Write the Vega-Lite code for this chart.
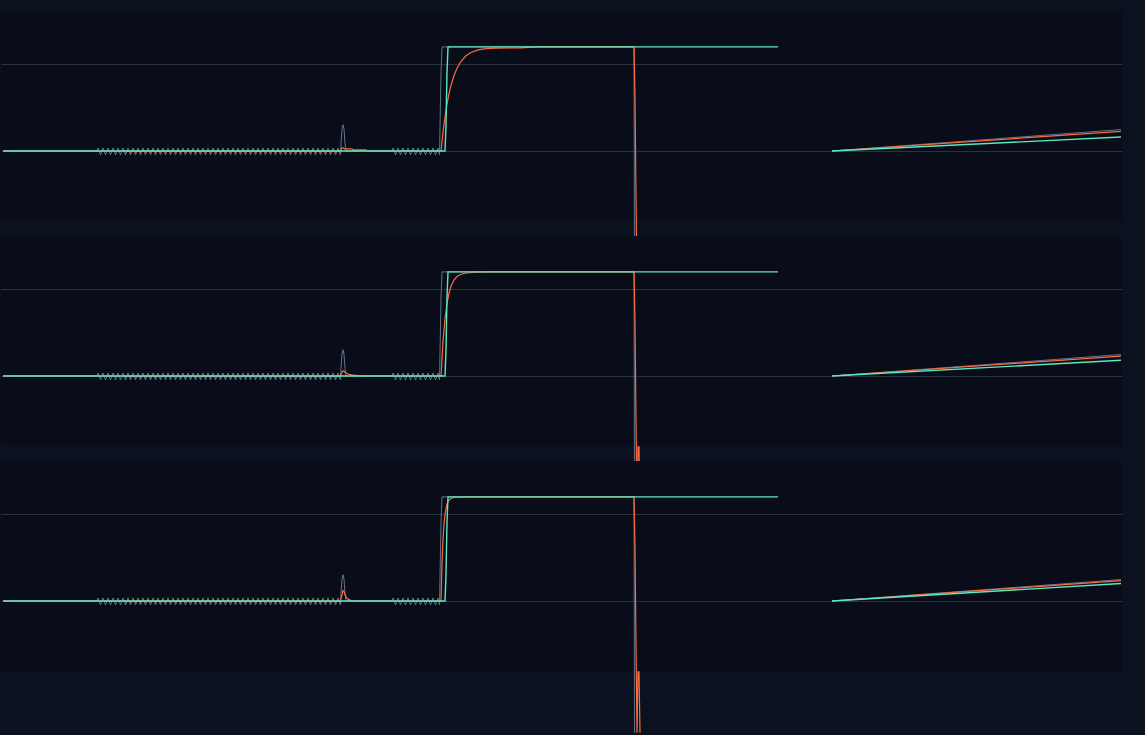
{
  "$schema": "https://vega.github.io/schema/vega-lite/v6.json",
  "background": "#0c1120",
  "padding": {"left": 0, "top": 11, "right": 21, "bottom": 0},
  "spacing": 15,
  "bounds": "flush",
  "config": {
    "view": {"fill": "#080d19", "stroke": null},
    "axis": {"gridColor": "#2a3140", "gridWidth": 1, "gridOpacity": 1}
  },
  "datasets": {
    "gray": [
      {"t":0.02,"v":0,"g":"a"},{"t":0.96,"v":0,"g":"a"},
      {"t":0.97,"v":0.035,"g":"a"},{"t":0.995,"v":-0.045,"g":"a"},{"t":1.02,"v":0.035,"g":"a"},{"t":1.045,"v":-0.045,"g":"a"},{"t":1.07,"v":0.035,"g":"a"},{"t":1.095,"v":-0.045,"g":"a"},{"t":1.12,"v":0.035,"g":"a"},{"t":1.145,"v":-0.045,"g":"a"},{"t":1.17,"v":0.035,"g":"a"},{"t":1.195,"v":-0.045,"g":"a"},
      {"t":1.22,"v":0.035,"g":"a"},{"t":1.245,"v":-0.045,"g":"a"},{"t":1.27,"v":0.035,"g":"a"},{"t":1.295,"v":-0.045,"g":"a"},{"t":1.32,"v":0.035,"g":"a"},{"t":1.345,"v":-0.045,"g":"a"},{"t":1.37,"v":0.035,"g":"a"},{"t":1.395,"v":-0.045,"g":"a"},{"t":1.42,"v":0.035,"g":"a"},{"t":1.445,"v":-0.045,"g":"a"},
      {"t":1.47,"v":0.035,"g":"a"},{"t":1.495,"v":-0.045,"g":"a"},{"t":1.52,"v":0.035,"g":"a"},{"t":1.545,"v":-0.045,"g":"a"},{"t":1.57,"v":0.035,"g":"a"},{"t":1.595,"v":-0.045,"g":"a"},{"t":1.62,"v":0.035,"g":"a"},{"t":1.645,"v":-0.045,"g":"a"},{"t":1.67,"v":0.035,"g":"a"},{"t":1.695,"v":-0.045,"g":"a"},
      {"t":1.72,"v":0.035,"g":"a"},{"t":1.745,"v":-0.045,"g":"a"},{"t":1.77,"v":0.035,"g":"a"},{"t":1.795,"v":-0.045,"g":"a"},{"t":1.82,"v":0.035,"g":"a"},{"t":1.845,"v":-0.045,"g":"a"},{"t":1.87,"v":0.035,"g":"a"},{"t":1.895,"v":-0.045,"g":"a"},{"t":1.92,"v":0.035,"g":"a"},{"t":1.945,"v":-0.045,"g":"a"},
      {"t":1.97,"v":0.035,"g":"a"},{"t":1.995,"v":-0.045,"g":"a"},{"t":2.02,"v":0.035,"g":"a"},{"t":2.045,"v":-0.045,"g":"a"},{"t":2.07,"v":0.035,"g":"a"},{"t":2.095,"v":-0.045,"g":"a"},{"t":2.12,"v":0.035,"g":"a"},{"t":2.145,"v":-0.045,"g":"a"},{"t":2.17,"v":0.035,"g":"a"},{"t":2.195,"v":-0.045,"g":"a"},
      {"t":2.22,"v":0.035,"g":"a"},{"t":2.245,"v":-0.045,"g":"a"},{"t":2.27,"v":0.035,"g":"a"},{"t":2.295,"v":-0.045,"g":"a"},{"t":2.32,"v":0.035,"g":"a"},{"t":2.345,"v":-0.045,"g":"a"},{"t":2.37,"v":0.035,"g":"a"},{"t":2.395,"v":-0.045,"g":"a"},{"t":2.42,"v":0.035,"g":"a"},{"t":2.445,"v":-0.045,"g":"a"},
      {"t":2.47,"v":0.035,"g":"a"},{"t":2.495,"v":-0.045,"g":"a"},{"t":2.52,"v":0.035,"g":"a"},{"t":2.545,"v":-0.045,"g":"a"},{"t":2.57,"v":0.035,"g":"a"},{"t":2.595,"v":-0.045,"g":"a"},{"t":2.62,"v":0.035,"g":"a"},{"t":2.645,"v":-0.045,"g":"a"},{"t":2.67,"v":0.035,"g":"a"},{"t":2.695,"v":-0.045,"g":"a"},
      {"t":2.72,"v":0.035,"g":"a"},{"t":2.745,"v":-0.045,"g":"a"},{"t":2.77,"v":0.035,"g":"a"},{"t":2.795,"v":-0.045,"g":"a"},{"t":2.82,"v":0.035,"g":"a"},{"t":2.845,"v":-0.045,"g":"a"},{"t":2.87,"v":0.035,"g":"a"},{"t":2.895,"v":-0.045,"g":"a"},{"t":2.92,"v":0.035,"g":"a"},{"t":2.945,"v":-0.045,"g":"a"},
      {"t":2.97,"v":0.035,"g":"a"},{"t":2.995,"v":-0.045,"g":"a"},{"t":3.02,"v":0.035,"g":"a"},{"t":3.045,"v":-0.045,"g":"a"},{"t":3.07,"v":0.035,"g":"a"},{"t":3.095,"v":-0.045,"g":"a"},{"t":3.12,"v":0.035,"g":"a"},{"t":3.145,"v":-0.045,"g":"a"},{"t":3.17,"v":0.035,"g":"a"},{"t":3.195,"v":-0.045,"g":"a"},
      {"t":3.22,"v":0.035,"g":"a"},{"t":3.245,"v":-0.045,"g":"a"},{"t":3.27,"v":0.035,"g":"a"},{"t":3.295,"v":-0.045,"g":"a"},{"t":3.32,"v":0.035,"g":"a"},{"t":3.345,"v":-0.045,"g":"a"},{"t":3.37,"v":0.035,"g":"a"},{"t":3.395,"v":-0.045,"g":"a"},
      {"t":3.40,"v":0.086,"g":"a"},{"t":3.41,"v":0.25,"g":"a"},{"t":3.42,"v":0.30,"g":"a"},{"t":3.43,"v":0.25,"g":"a"},{"t":3.44,"v":0.086,"g":"a"},{"t":3.45,"v":0,"g":"a"},{"t":3.91,"v":0,"g":"a"},
      {"t":3.92,"v":0.035,"g":"a"},{"t":3.945,"v":-0.045,"g":"a"},{"t":3.97,"v":0.035,"g":"a"},{"t":3.995,"v":-0.045,"g":"a"},{"t":4.02,"v":0.035,"g":"a"},{"t":4.045,"v":-0.045,"g":"a"},{"t":4.07,"v":0.035,"g":"a"},{"t":4.095,"v":-0.045,"g":"a"},{"t":4.12,"v":0.035,"g":"a"},{"t":4.145,"v":-0.045,"g":"a"},
      {"t":4.17,"v":0.035,"g":"a"},{"t":4.195,"v":-0.045,"g":"a"},{"t":4.22,"v":0.035,"g":"a"},{"t":4.245,"v":-0.045,"g":"a"},{"t":4.27,"v":0.035,"g":"a"},{"t":4.295,"v":-0.045,"g":"a"},{"t":4.32,"v":0.035,"g":"a"},{"t":4.345,"v":-0.045,"g":"a"},{"t":4.37,"v":0.035,"g":"a"},{"t":4.385,"v":-0.045,"g":"a"},
      {"t":4.39,"v":0.27,"g":"a"},{"t":4.40,"v":0.89,"g":"a"},{"t":4.41,"v":1.19,"g":"a"},{"t":6.33,"v":1.19,"g":"a"},{"t":6.335,"v":-1.505,"g":"a"},
      {"t":8.31,"v":0,"g":"b"},{"t":11.2,"v":0.245,"g":"b"}
    ],
    "ozig": [
      {"t":1.22,"v":0,"g":"z"},{"t":1.245,"v":-0.013,"g":"z"},{"t":1.27,"v":0,"g":"z"},{"t":1.295,"v":-0.013,"g":"z"},{"t":1.32,"v":0,"g":"z"},{"t":1.345,"v":-0.013,"g":"z"},{"t":1.37,"v":0,"g":"z"},{"t":1.395,"v":-0.013,"g":"z"},{"t":1.42,"v":0,"g":"z"},{"t":1.445,"v":-0.013,"g":"z"},
      {"t":1.47,"v":0,"g":"z"},{"t":1.495,"v":-0.013,"g":"z"},{"t":1.52,"v":0,"g":"z"},{"t":1.545,"v":-0.013,"g":"z"},{"t":1.57,"v":0,"g":"z"},{"t":1.595,"v":-0.013,"g":"z"},{"t":1.62,"v":0,"g":"z"},{"t":1.645,"v":-0.013,"g":"z"},{"t":1.67,"v":0,"g":"z"},{"t":1.695,"v":-0.013,"g":"z"},
      {"t":1.72,"v":0,"g":"z"},{"t":1.745,"v":-0.013,"g":"z"},{"t":1.77,"v":0,"g":"z"},{"t":1.795,"v":-0.013,"g":"z"},{"t":1.82,"v":0,"g":"z"},{"t":1.845,"v":-0.013,"g":"z"},{"t":1.87,"v":0,"g":"z"},{"t":1.895,"v":-0.013,"g":"z"},{"t":1.92,"v":0,"g":"z"},{"t":1.945,"v":-0.013,"g":"z"},
      {"t":1.97,"v":0,"g":"z"},{"t":1.995,"v":-0.013,"g":"z"},{"t":2.02,"v":0,"g":"z"},{"t":2.045,"v":-0.013,"g":"z"},{"t":2.07,"v":0,"g":"z"},{"t":2.095,"v":-0.013,"g":"z"},{"t":2.12,"v":0,"g":"z"},{"t":2.145,"v":-0.013,"g":"z"},{"t":2.17,"v":0,"g":"z"},{"t":2.195,"v":-0.013,"g":"z"},
      {"t":2.22,"v":0,"g":"z"},{"t":2.245,"v":-0.013,"g":"z"},{"t":2.27,"v":0,"g":"z"},{"t":2.295,"v":-0.013,"g":"z"},{"t":2.32,"v":0,"g":"z"},{"t":2.345,"v":-0.013,"g":"z"},{"t":2.37,"v":0,"g":"z"},{"t":2.395,"v":-0.013,"g":"z"},{"t":2.42,"v":0,"g":"z"},{"t":2.445,"v":-0.013,"g":"z"},
      {"t":2.47,"v":0,"g":"z"},{"t":2.495,"v":-0.013,"g":"z"},{"t":2.52,"v":0,"g":"z"},{"t":2.545,"v":-0.013,"g":"z"},{"t":2.57,"v":0,"g":"z"},{"t":2.595,"v":-0.013,"g":"z"},{"t":2.62,"v":0,"g":"z"},{"t":2.645,"v":-0.013,"g":"z"},{"t":2.67,"v":0,"g":"z"},{"t":2.695,"v":-0.013,"g":"z"},
      {"t":2.72,"v":0,"g":"z"},{"t":2.745,"v":-0.013,"g":"z"},{"t":2.77,"v":0,"g":"z"},{"t":2.795,"v":-0.013,"g":"z"},{"t":2.82,"v":0,"g":"z"},{"t":2.845,"v":-0.013,"g":"z"},{"t":2.87,"v":0,"g":"z"},{"t":2.895,"v":-0.013,"g":"z"},{"t":2.92,"v":0,"g":"z"},{"t":2.945,"v":-0.013,"g":"z"},
      {"t":2.97,"v":0,"g":"z"},{"t":2.995,"v":-0.013,"g":"z"},{"t":3.02,"v":0,"g":"z"},{"t":3.045,"v":-0.013,"g":"z"},{"t":3.07,"v":0,"g":"z"},{"t":3.095,"v":-0.013,"g":"z"},{"t":3.12,"v":0,"g":"z"},{"t":3.145,"v":-0.013,"g":"z"},{"t":3.17,"v":0,"g":"z"},{"t":3.195,"v":-0.013,"g":"z"},
      {"t":3.22,"v":0,"g":"z"},{"t":3.245,"v":-0.013,"g":"z"},{"t":3.27,"v":0,"g":"z"},{"t":3.295,"v":-0.013,"g":"z"},{"t":3.32,"v":0,"g":"z"},{"t":3.345,"v":-0.013,"g":"z"},{"t":3.37,"v":0,"g":"z"},{"t":3.395,"v":-0.013,"g":"z"}
    ],
    "p1": [
      {"s":"orange","g":"a","t":0.02,"v":0},{"s":"orange","g":"a","t":3.395,"v":0},{"s":"orange","g":"a","t":3.40,"v":0.01},{"s":"orange","g":"a","t":3.41,"v":0.037},{"s":"orange","g":"a","t":3.42,"v":0.037},{"s":"orange","g":"a","t":3.43,"v":0.03},{"s":"orange","g":"a","t":3.44,"v":0.025},{"s":"orange","g":"a","t":3.51,"v":0.025},{"s":"orange","g":"a","t":3.52,"v":0.014},{"s":"orange","g":"a","t":3.65,"v":0.014},{"s":"orange","g":"a","t":3.66,"v":0},
      {"s":"orange","g":"a","t":4.40,"v":0},{"s":"orange","g":"a","t":4.42,"v":0.215},{"s":"orange","g":"a","t":4.44,"v":0.391},{"s":"orange","g":"a","t":4.46,"v":0.535},{"s":"orange","g":"a","t":4.48,"v":0.653},{"s":"orange","g":"a","t":4.50,"v":0.749},{"s":"orange","g":"a","t":4.53,"v":0.862},{"s":"orange","g":"a","t":4.56,"v":0.946},{"s":"orange","g":"a","t":4.60,"v":1.025},{"s":"orange","g":"a","t":4.65,"v":1.088},{"s":"orange","g":"a","t":4.70,"v":1.126},{"s":"orange","g":"a","t":4.77,"v":1.156},{"s":"orange","g":"a","t":4.85,"v":1.170},{"s":"orange","g":"a","t":4.95,"v":1.176},{"s":"orange","g":"a","t":5.20,"v":1.178},{"s":"orange","g":"a","t":5.36,"v":1.19},{"s":"orange","g":"a","t":6.33,"v":1.19},
      {"s":"orange","g":"a","t":6.34,"v":0.62},{"s":"orange","g":"a","t":6.35,"v":-0.52},{"s":"orange","g":"a","t":6.36,"v":-1.505},
      {"s":"orange","g":"b","t":8.31,"v":0},{"s":"orange","g":"b","t":11.2,"v":0.225},
      {"s":"teal","g":"a","t":0.02,"v":0},{"s":"teal","g":"a","t":4.44,"v":0},{"s":"teal","g":"a","t":4.45,"v":0.30},{"s":"teal","g":"a","t":4.46,"v":0.90},{"s":"teal","g":"a","t":4.47,"v":1.19},{"s":"teal","g":"a","t":7.77,"v":1.19},
      {"s":"teal","g":"b","t":8.31,"v":0},{"s":"teal","g":"b","t":11.2,"v":0.16}
    ],
    "p2": [
      {"s":"orange","g":"a","t":0.02,"v":0},{"s":"orange","g":"a","t":3.395,"v":0},{"s":"orange","g":"a","t":3.41,"v":0.04},{"s":"orange","g":"a","t":3.42,"v":0.06},{"s":"orange","g":"a","t":3.43,"v":0.055},{"s":"orange","g":"a","t":3.45,"v":0.035},{"s":"orange","g":"a","t":3.48,"v":0.02},{"s":"orange","g":"a","t":3.52,"v":0.01},{"s":"orange","g":"a","t":3.60,"v":0.003},{"s":"orange","g":"a","t":3.65,"v":0},
      {"s":"orange","g":"a","t":4.40,"v":0},{"s":"orange","g":"a","t":4.42,"v":0.391},{"s":"orange","g":"a","t":4.44,"v":0.653},{"s":"orange","g":"a","t":4.46,"v":0.828},{"s":"orange","g":"a","t":4.48,"v":0.946},{"s":"orange","g":"a","t":4.50,"v":1.025},{"s":"orange","g":"a","t":4.53,"v":1.097},{"s":"orange","g":"a","t":4.56,"v":1.137},{"s":"orange","g":"a","t":4.60,"v":1.163},{"s":"orange","g":"a","t":4.65,"v":1.177},{"s":"orange","g":"a","t":4.75,"v":1.186},{"s":"orange","g":"a","t":4.90,"v":1.19},{"s":"orange","g":"a","t":6.33,"v":1.19},
      {"s":"orange","g":"a","t":6.34,"v":0.62},{"s":"orange","g":"a","t":6.35,"v":-0.52},{"s":"orange","g":"a","t":6.36,"v":-1.505},{"s":"orange","g":"a","t":6.37,"v":-0.81},{"s":"orange","g":"a","t":6.38,"v":-0.81},{"s":"orange","g":"a","t":6.39,"v":-1.505},
      {"s":"orange","g":"b","t":8.31,"v":0},{"s":"orange","g":"b","t":11.2,"v":0.228},
      {"s":"teal","g":"a","t":0.02,"v":0},{"s":"teal","g":"a","t":4.44,"v":0},{"s":"teal","g":"a","t":4.45,"v":0.30},{"s":"teal","g":"a","t":4.46,"v":0.90},{"s":"teal","g":"a","t":4.47,"v":1.19},{"s":"teal","g":"a","t":7.77,"v":1.19},
      {"s":"teal","g":"b","t":8.31,"v":0},{"s":"teal","g":"b","t":11.2,"v":0.18}
    ],
    "p3": [
      {"s":"orange","g":"a","t":0.02,"v":0},{"s":"orange","g":"a","t":3.395,"v":0},{"s":"orange","g":"a","t":3.41,"v":0.07},{"s":"orange","g":"a","t":3.42,"v":0.12},{"s":"orange","g":"a","t":3.43,"v":0.11},{"s":"orange","g":"a","t":3.44,"v":0.07},{"s":"orange","g":"a","t":3.46,"v":0.03},{"s":"orange","g":"a","t":3.49,"v":0.01},{"s":"orange","g":"a","t":3.53,"v":0},
      {"s":"orange","g":"a","t":4.40,"v":0},{"s":"orange","g":"a","t":4.41,"v":0.433},{"s":"orange","g":"a","t":4.42,"v":0.707},{"s":"orange","g":"a","t":4.43,"v":0.882},{"s":"orange","g":"a","t":4.44,"v":0.993},{"s":"orange","g":"a","t":4.46,"v":1.108},{"s":"orange","g":"a","t":4.48,"v":1.154},{"s":"orange","g":"a","t":4.51,"v":1.177},{"s":"orange","g":"a","t":4.55,"v":1.186},{"s":"orange","g":"a","t":4.65,"v":1.19},{"s":"orange","g":"a","t":6.33,"v":1.19},
      {"s":"orange","g":"a","t":6.34,"v":0.62},{"s":"orange","g":"a","t":6.35,"v":-0.52},{"s":"orange","g":"a","t":6.36,"v":-1.505},{"s":"orange","g":"a","t":6.37,"v":-0.81},{"s":"orange","g":"a","t":6.38,"v":-0.81},{"s":"orange","g":"a","t":6.39,"v":-1.505},
      {"s":"orange","g":"b","t":8.31,"v":0},{"s":"orange","g":"b","t":11.2,"v":0.232},
      {"s":"teal","g":"a","t":0.02,"v":0},{"s":"teal","g":"a","t":4.44,"v":0},{"s":"teal","g":"a","t":4.45,"v":0.30},{"s":"teal","g":"a","t":4.46,"v":0.90},{"s":"teal","g":"a","t":4.47,"v":1.19},{"s":"teal","g":"a","t":7.77,"v":1.19},
      {"s":"teal","g":"b","t":8.31,"v":0},{"s":"teal","g":"b","t":11.2,"v":0.20}
    ]
  },
  "vconcat": [
    {
      "width": 1121, "height": 210,
      "encoding": {
        "x": {"field": "t", "type": "quantitative", "scale": {"domain": [0, 11.21], "nice": false, "zero": false}, "axis": null},
        "y": {"field": "v", "type": "quantitative", "scale": {"domain": [-0.8, 1.6], "nice": false, "zero": false}, "axis": {"values": [0, 1], "labels": false, "ticks": false, "domain": false, "title": null, "grid": true}},
        "detail": {"field": "g"}
      },
      "layer": [
        {"data": {"name": "gray"}, "mark": {"type": "line", "color": "#64748b", "strokeWidth": 1}},
        {"data": {"name": "ozig"}, "mark": {"type": "line", "color": "#ff6b3d", "strokeWidth": 1}},
        {"data": {"name": "p1"}, "transform": [{"filter": "datum.s === 'orange'"}], "mark": {"type": "line", "color": "#ff6b3d", "strokeWidth": 1.2}},
        {"data": {"name": "p1"}, "transform": [{"filter": "datum.s === 'teal'"}], "mark": {"type": "line", "color": "#5ae8c0", "strokeWidth": 1.4}}
      ]
    },
    {
      "width": 1121, "height": 210,
      "encoding": {
        "x": {"field": "t", "type": "quantitative", "scale": {"domain": [0, 11.21], "nice": false, "zero": false}, "axis": null},
        "y": {"field": "v", "type": "quantitative", "scale": {"domain": [-0.8, 1.6], "nice": false, "zero": false}, "axis": {"values": [0, 1], "labels": false, "ticks": false, "domain": false, "title": null, "grid": true}},
        "detail": {"field": "g"}
      },
      "layer": [
        {"data": {"name": "gray"}, "mark": {"type": "line", "color": "#64748b", "strokeWidth": 1}},
        {"data": {"name": "ozig"}, "mark": {"type": "line", "color": "#ff6b3d", "strokeWidth": 1}},
        {"data": {"name": "p2"}, "transform": [{"filter": "datum.s === 'orange'"}], "mark": {"type": "line", "color": "#ff6b3d", "strokeWidth": 1.2}},
        {"data": {"name": "p2"}, "transform": [{"filter": "datum.s === 'teal'"}], "mark": {"type": "line", "color": "#5ae8c0", "strokeWidth": 1.4}}
      ]
    },
    {
      "width": 1121, "height": 210,
      "encoding": {
        "x": {"field": "t", "type": "quantitative", "scale": {"domain": [0, 11.21], "nice": false, "zero": false}, "axis": null},
        "y": {"field": "v", "type": "quantitative", "scale": {"domain": [-0.8, 1.6], "nice": false, "zero": false}, "axis": {"values": [0, 1], "labels": false, "ticks": false, "domain": false, "title": null, "grid": true}},
        "detail": {"field": "g"}
      },
      "layer": [
        {"data": {"name": "gray"}, "mark": {"type": "line", "color": "#64748b", "strokeWidth": 1}},
        {"data": {"name": "ozig"}, "mark": {"type": "line", "color": "#ff6b3d", "strokeWidth": 1}},
        {"data": {"name": "p3"}, "transform": [{"filter": "datum.s === 'orange'"}], "mark": {"type": "line", "color": "#ff6b3d", "strokeWidth": 1.2}},
        {"data": {"name": "p3"}, "transform": [{"filter": "datum.s === 'teal'"}], "mark": {"type": "line", "color": "#5ae8c0", "strokeWidth": 1.4}}
      ]
    }
  ]
}
